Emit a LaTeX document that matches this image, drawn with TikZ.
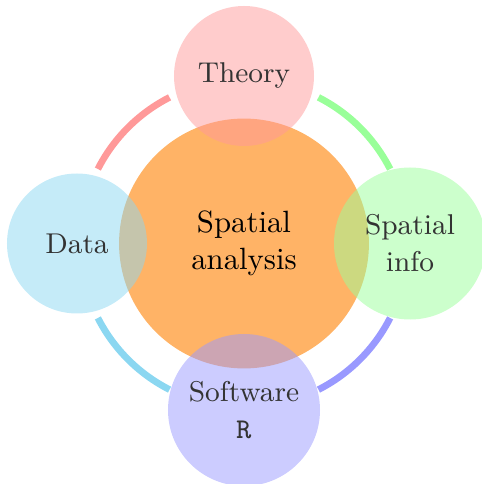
\documentclass[tikz,border=0pt]{standalone}
\definecolor{skyblue}{RGB}{139,215,241}
\tikzset{
    hub/.style = {circle, fill = orange, fill opacity = .6, text opacity = 1,
        minimum size = 81.2pt, inner sep = 0pt, align = center},
    sat/.style = {circle, fill = #1, fill opacity = .5, text opacity = 1,
        text = black!80, minimum size = 45.5pt, inner sep = 0pt,
        align = center, font = \fontsize{9.3}{12}\selectfont},
    link/.style = {#1, line width = 2.2pt},
}
\def\r{164}

\begin{document}
\begin{tikzpicture}[x = .325pt, y = .325pt]
    \useasboundingbox (-244,-240.5) rectangle (238,243.5);
    \node[hub] (centre) at (0,0) {Spatial\\analysis};
    \node[sat = red!40] (theory) at (0,167.5) {Theory};
    \node[sat = skyblue] (data) at (-167,0) {Data};
    \node[sat = green!40, minimum size = 49.4pt] (info) at (166,0) {Spatial\\info};
    \node[sat = blue!40, minimum size = 49.4pt] (software) at (0,-166.5) {Software\\\texttt{R}};
    % arcs between the satellites
    \draw[link = red!40] (centre.center) ++(117:\r) arc[start angle = 117, end angle = 153, radius = \r];
    \draw[link = green!40] (centre.center) ++(27:\r) arc[start angle = 27, end angle = 63, radius = \r];
    \draw[link = blue!40] (centre.center) ++(-63:\r) arc[start angle = -63, end angle = -27, radius = \r];
    \draw[link = skyblue] (centre.center) ++(207:\r) arc[start angle = 207, end angle = 243, radius = \r];
\end{tikzpicture}
\end{document}
